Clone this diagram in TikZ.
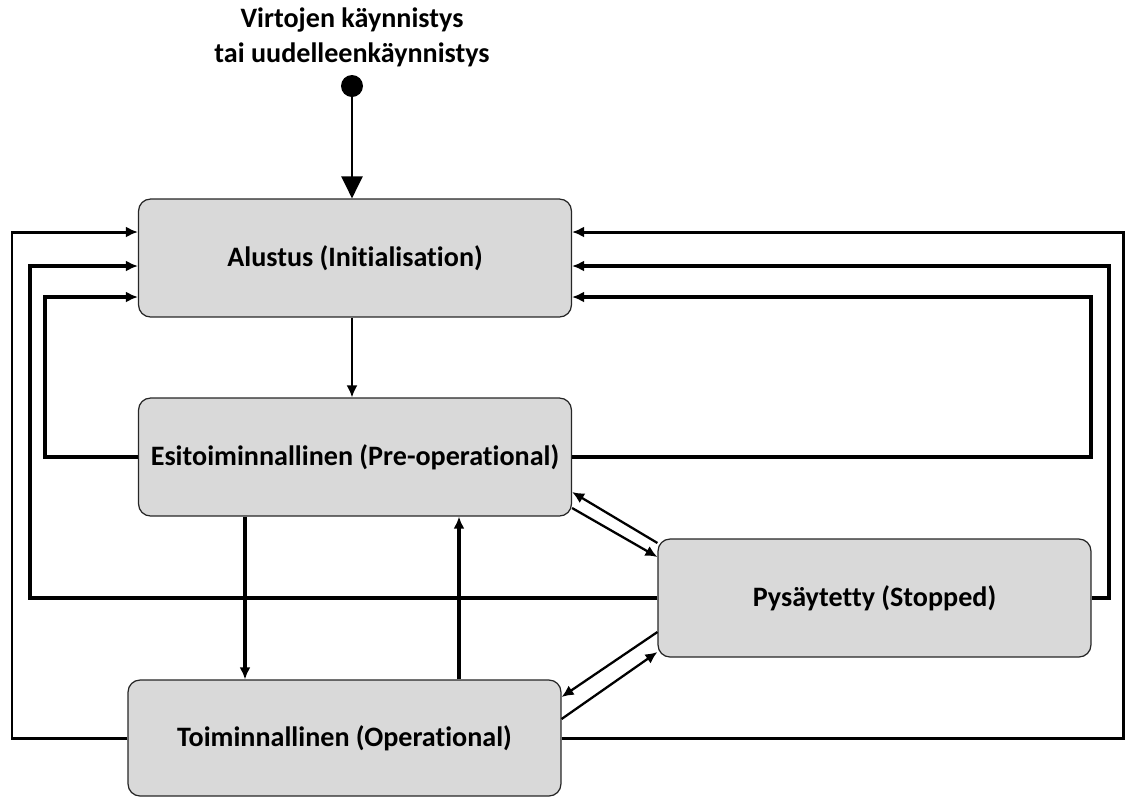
\documentclass[tikz,border=0pt]{standalone}
\usepackage{fontspec}
\setmainfont[Ligatures=NoCommon]{Carlito}
\usepackage{tikz}
\usetikzlibrary{arrows.meta, shapes, positioning}

\begin{document}
\begin{tikzpicture}[x=0.02cm, y=-0.02cm,
    state/.style={rectangle, draw=black!85, line width=0.7pt, rounded corners=0.24cm, fill=black!15,
        minimum width=8.66cm, minimum height=2.36cm, font=\bfseries\fontsize{16}{20}\selectfont},
    arr/.style={-{Latex[length=0.24cm, width=0.22cm]}, line width=1.3pt},
    back/.style={arr, line width=1.7pt}]
    \useasboundingbox (0,0) rectangle (1127,796);

    \node [align=center, font=\bfseries\fontsize{16}{20}\selectfont] (title) at (352,37) {Virtojen käynnistys\\tai uudelleenkäynnistys};
    \node [circle, fill=black, minimum size=0.44cm, inner sep=0pt] (start) at (352,86) {};

    \node [state] (alu) at (355,258) {Alustus (Initialisation)};
    \node [state] (esi) at (355,457) {Esitoiminnallinen (Pre-operational)};
    \node [state] (pys) at (874.5,598) {Pysäytetty (Stopped)};
    \node [state, minimum height=2.32cm] (toi) at (344.5,738) {Toiminnallinen (Operational)};

    \draw [-{Triangle[length=0.44cm, width=0.42cm]}, line width=1.4pt] (start) -- (alu.north -| start);
    \draw [arr, line width=1.2pt] (alu.south -| start) -- (esi.north -| start);

    % paluut alustukseen, vasen puoli
    \draw [back] (toi.west) -| (12,232) -- (alu.west |- 0,232);
    \draw [back, line width=2pt] (pys.west) -| (30,266) -- (alu.west |- 0,266);
    \draw [back, line width=1.9pt] (esi.west) -| (45,297) -- (alu.west |- 0,297);

    % paluut alustukseen, oikea puoli
    \draw [back] (toi.east) -| (1123,232) -- (alu.east |- 0,232);
    \draw [back, line width=2pt] (pys.east) -| (1109,266) -- (alu.east |- 0,266);
    \draw [back, line width=1.9pt] (esi.east) -| (1091,297) -- (alu.east |- 0,297);

    \draw [arr, line width=1.8pt] (esi.south -| 245,0) -- (toi.north -| 245,0);
    \draw [arr, line width=1.8pt] (toi.north -| 459,0) -- (esi.south -| 459,0);

    \draw [arr] (pys.west |- 0,543) -- (esi.east |- 0,492);
    \draw [arr] (esi.east |- 0,508) -- (pys.west |- 0,557);
    \draw [arr] (pys.west |- 0,632) -- (toi.east |- 0,697);
    \draw [arr] (toi.east |- 0,719) -- (pys.west |- 0,652);
\end{tikzpicture}
\end{document}
